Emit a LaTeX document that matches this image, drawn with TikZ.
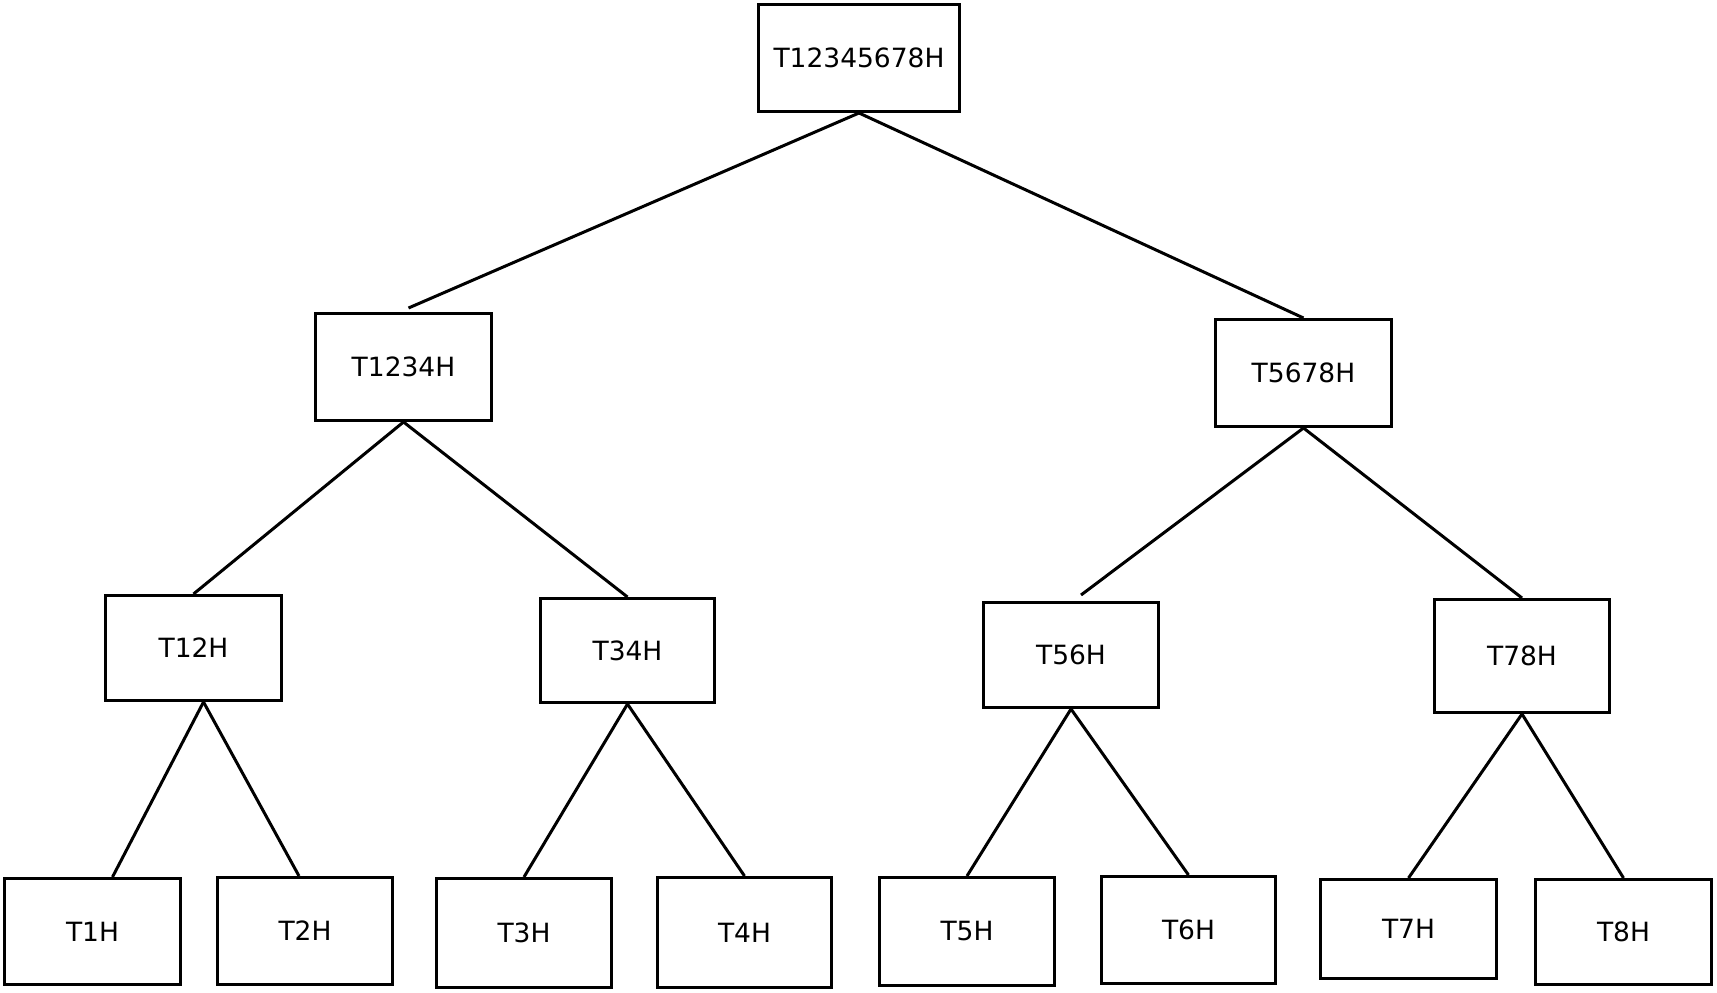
\documentclass[tikz,border=0pt]{standalone}
\usepackage{fontspec}
\setmainfont{DejaVu Sans}
\begin{document}
\begin{tikzpicture}[x=1pt,y=-1pt,
  tbox/.style={draw,line width=3pt,inner sep=0pt,font=\fontsize{26.5}{30}\selectfont},
  conn/.style={line width=3pt}]
\useasboundingbox[fill=white] (0,0) rectangle (1717,993);
\node[tbox,minimum width=201,minimum height=107] (root) at (859,58) {T12345678H};
\node[tbox,minimum width=176,minimum height=107] (a) at (403.5,367) {T1234H};
\node[tbox,minimum width=176,minimum height=107] (b) at (1303.5,373) {T5678H};
\node[tbox,minimum width=176,minimum height=105] (a1) at (193.5,648) {T12H};
\node[tbox,minimum width=174,minimum height=104] (a2) at (627.5,650.5) {T34H};
\node[tbox,minimum width=175,minimum height=105] (b1) at (1071,655) {T56H};
\node[tbox,minimum width=175,minimum height=113] (b2) at (1522,656) {T78H};
\node[tbox,minimum width=176,minimum height=106] (t1) at (92.5,931.5) {T1H};
\node[tbox,minimum width=175,minimum height=107] (t2) at (305,931) {T2H};
\node[tbox,minimum width=175,minimum height=109] (t3) at (524,933) {T3H};
\node[tbox,minimum width=174,minimum height=110] (t4) at (744.5,932.5) {T4H};
\node[tbox,minimum width=175,minimum height=108] (t5) at (967,931.5) {T5H};
\node[tbox,minimum width=174,minimum height=107] (t6) at (1188.5,930) {T6H};
\node[tbox,minimum width=176,minimum height=99] (t7) at (1408.5,929) {T7H};
\node[tbox,minimum width=176,minimum height=105] (t8) at (1623.5,932) {T8H};
\draw[conn] (root.south) -- ([xshift=5pt,yshift=4pt]a.north);
\draw[conn] (root.south) -- (b.north);
\draw[conn] (a.south) -- (a1.north);
\draw[conn] (a.south) -- (a2.north);
\draw[conn] (b.south) -- ([xshift=10pt,yshift=6pt]b1.north);
\draw[conn] (b.south) -- (b2.north);
\draw[conn] ([xshift=10pt]a1.south) -- ([xshift=20pt]t1.north);
\draw[conn] ([xshift=10pt]a1.south) -- ([xshift=-6pt]t2.north);
\draw[conn] (a2.south) -- (t3.north);
\draw[conn] (a2.south) -- (t4.north);
\draw[conn] (b1.south) -- (t5.north);
\draw[conn] (b1.south) -- (t6.north);
\draw[conn] (b2.south) -- (t7.north);
\draw[conn] (b2.south) -- (t8.north);
\end{tikzpicture}
\end{document}
